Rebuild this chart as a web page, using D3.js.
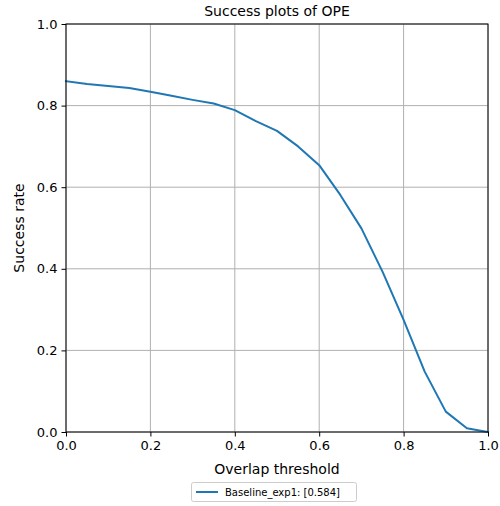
<!DOCTYPE html>
<html>
<head>
<meta charset="utf-8">
<script src="https://cdn.jsdelivr.net/npm/d3@7"></script>
<style>
  body { margin: 0; background: #fff; }
  svg { display: block; font-family: "DejaVu Sans", sans-serif; }
</style>
</head>
<body>
<svg id="chart" width="500" height="506"></svg>
<script>
// Overlap thresholds and success rates
const thresholds = [0.00, 0.05, 0.10, 0.15, 0.20, 0.25, 0.30, 0.35, 0.40, 0.45, 0.50,
                    0.55, 0.60, 0.65, 0.70, 0.75, 0.80, 0.85, 0.90, 0.95, 1.00];
const successRates = [0.860, 0.853, 0.848, 0.843, 0.834, 0.824, 0.814, 0.805, 0.789, 0.762, 0.738,
                      0.700, 0.654, 0.581, 0.499, 0.393, 0.275, 0.148, 0.050, 0.009, 0.000];
const tickValues = [0, 0.2, 0.4, 0.6, 0.8, 1.0];
const seriesName = "Baseline_exp1";
const aucLabel = "[0.584]";

const svg = d3.select("#chart");
const m = { left: 66, right: 12, top: 24, bottom: 74 };
const W = 500, H = 506;
const x = d3.scaleLinear().domain([0, 1]).range([m.left, W - m.right]);
const y = d3.scaleLinear().domain([0, 1]).range([H - m.bottom, m.top]);

// grid
const grid = svg.append("g");
grid.selectAll("line.vx").data(tickValues).enter().append("line")
  .attr("x1", d => x(d)).attr("x2", d => x(d))
  .attr("y1", y(0)).attr("y2", y(1))
  .attr("stroke", "#b0b0b0").attr("stroke-width", 1);
grid.selectAll("line.hy").data(tickValues).enter().append("line")
  .attr("y1", d => y(d)).attr("y2", d => y(d))
  .attr("x1", x(0)).attr("x2", x(1))
  .attr("stroke", "#b0b0b0").attr("stroke-width", 1);

// curve
const line = d3.line().x((d, i) => x(thresholds[i])).y(d => y(d));
svg.append("path").datum(successRates)
  .attr("d", line)
  .attr("fill", "none").attr("stroke", "#1f77b4").attr("stroke-width", 2)
  .attr("stroke-linejoin", "round").attr("stroke-linecap", "square");

// frame
svg.append("rect")
  .attr("x", x(0)).attr("y", y(1))
  .attr("width", x(1) - x(0)).attr("height", y(0) - y(1))
  .attr("fill", "none").attr("stroke", "#000").attr("stroke-width", 1);

// axes
const fmt = d3.format(".1f");
const xAxis = svg.append("g").attr("transform", `translate(0,${y(0)})`)
  .call(d3.axisBottom(x).tickValues(tickValues).tickFormat(fmt).tickSize(4.5).tickPadding(4));
const yAxis = svg.append("g").attr("transform", `translate(${x(0)},0)`)
  .call(d3.axisLeft(y).tickValues(tickValues).tickFormat(fmt).tickSize(4.5).tickPadding(4));
[xAxis, yAxis].forEach(a => {
  a.select(".domain").remove();
  a.selectAll("text").attr("font-size", 13).attr("fill", "#000")
    .attr("font-family", "DejaVu Sans, sans-serif");
  a.selectAll(".tick line").attr("stroke", "#000");
});

// title & axis labels
svg.append("text").attr("x", (x(0) + x(1)) / 2).attr("y", 16)
  .attr("text-anchor", "middle").attr("font-size", 14).text("Success plots of OPE");
svg.append("text").attr("x", (x(0) + x(1)) / 2).attr("y", 474)
  .attr("text-anchor", "middle").attr("font-size", 14).text("Overlap threshold");
svg.append("text")
  .attr("transform", `translate(24,${(y(0) + y(1)) / 2}) rotate(-90)`)
  .attr("text-anchor", "middle").attr("font-size", 14).text("Success rate");

// legend
const lg = svg.append("g").attr("transform", "translate(191,482)");
lg.append("rect").attr("x", 0.5).attr("y", 0.5).attr("width", 165).attr("height", 19)
  .attr("rx", 2).attr("fill", "#fff").attr("stroke", "#ccc");
lg.append("line").attr("x1", 5).attr("x2", 27).attr("y1", 10).attr("y2", 10)
  .attr("stroke", "#1f77b4").attr("stroke-width", 2);
lg.append("text").attr("x", 34).attr("y", 14).attr("font-size", 10)
  .text(`${seriesName}: ${aucLabel}`);
</script>
</body>
</html>
